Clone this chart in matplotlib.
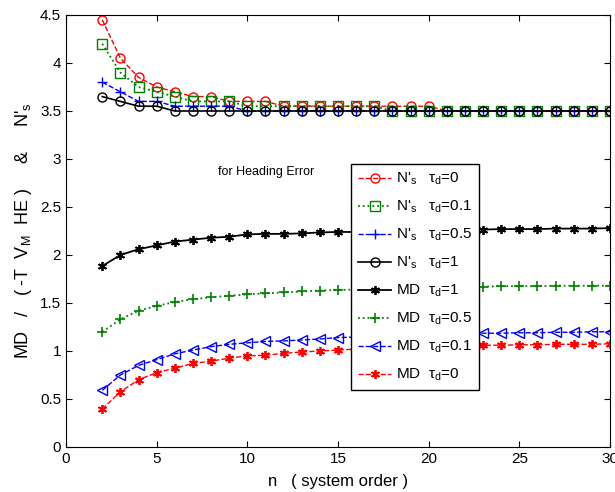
import matplotlib
matplotlib.use("Agg")
import matplotlib.pyplot as plt
import numpy as np

plt.rcParams['font.family'] = ['Liberation Sans', 'DejaVu Sans']
plt.rcParams['mathtext.fontset'] = 'custom'
plt.rcParams['mathtext.rm'] = 'Liberation Sans'
plt.rcParams['mathtext.it'] = 'Liberation Sans'

n = list(range(2, 31))

ns_td0 = [4.45, 4.05, 3.85, 3.75, 3.70, 3.65, 3.65, 3.60, 3.60, 3.60,
          3.55, 3.55, 3.55, 3.55, 3.55, 3.55, 3.55, 3.55, 3.55,
          3.50, 3.50, 3.50, 3.50, 3.50, 3.50, 3.50, 3.50, 3.50, 3.50]
ns_td01 = [4.20, 3.90, 3.75, 3.70, 3.65, 3.60, 3.60, 3.60,
           3.55, 3.55, 3.55, 3.55, 3.55, 3.55, 3.55, 3.55,
           3.50, 3.50, 3.50, 3.50, 3.50, 3.50, 3.50, 3.50, 3.50, 3.50, 3.50, 3.50, 3.50]
ns_td05 = [3.80, 3.70, 3.60, 3.60, 3.55, 3.55, 3.55, 3.55,
           3.50, 3.50, 3.50, 3.50, 3.50, 3.50, 3.50, 3.50, 3.50, 3.50, 3.50,
           3.50, 3.50, 3.50, 3.50, 3.50, 3.50, 3.50, 3.50, 3.50, 3.50]
ns_td1 = [3.65, 3.60, 3.55, 3.55,
          3.50, 3.50, 3.50, 3.50, 3.50, 3.50, 3.50, 3.50, 3.50, 3.50, 3.50,
          3.50, 3.50, 3.50, 3.50, 3.50, 3.50, 3.50, 3.50, 3.50, 3.50, 3.50, 3.50, 3.50, 3.50]

md_td1 = [1.885, 2.00, 2.06, 2.10, 2.14, 2.16, 2.18, 2.19, 2.215, 2.22,
          2.22, 2.225, 2.235, 2.24, 2.24, 2.245, 2.25, 2.25, 2.255, 2.26,
          2.265, 2.265, 2.27, 2.27, 2.27, 2.275, 2.275, 2.275, 2.28]
md_td05 = [1.20, 1.33, 1.42, 1.47, 1.51, 1.54, 1.56, 1.575, 1.59, 1.60,
           1.61, 1.62, 1.63, 1.635, 1.64, 1.645, 1.65, 1.655, 1.66, 1.665,
           1.67, 1.67, 1.675, 1.675, 1.675, 1.68, 1.68, 1.68, 1.68]
md_td01 = [0.59, 0.75, 0.85, 0.91, 0.97, 1.01, 1.045, 1.07, 1.085, 1.10,
           1.105, 1.115, 1.125, 1.14, 1.145, 1.15, 1.16, 1.165, 1.17, 1.175,
           1.18, 1.185, 1.185, 1.19, 1.19, 1.195, 1.195, 1.20, 1.20]
md_td0 = [0.395, 0.575, 0.70, 0.775, 0.82, 0.87, 0.895, 0.925, 0.95, 0.955,
          0.975, 0.99, 1.00, 1.01, 1.02, 1.025, 1.03, 1.04, 1.045, 1.05,
          1.055, 1.06, 1.06, 1.065, 1.065, 1.07, 1.07, 1.07, 1.075]

labels = [r"N$'_{\mathrm{s}}$   $\tau_{\mathrm{d}}$=0",
          r"N$'_{\mathrm{s}}$   $\tau_{\mathrm{d}}$=0.1",
          r"N$'_{\mathrm{s}}$   $\tau_{\mathrm{d}}$=0.5",
          r"N$'_{\mathrm{s}}$   $\tau_{\mathrm{d}}$=1",
          r"MD  $\tau_{\mathrm{d}}$=1",
          r"MD  $\tau_{\mathrm{d}}$=0.5",
          r"MD  $\tau_{\mathrm{d}}$=0.1",
          r"MD  $\tau_{\mathrm{d}}$=0"]

fig = plt.figure(figsize=(6.15, 4.92), dpi=100)
ax = fig.add_axes([66/615, 1 - 447/492, (610-66)/615, (447-15)/492])

red = '#ff0000'
green = '#008000'
blue = '#0000ff'
black = '#000000'
ast = (6, 2, 0)

ax.plot(n, ns_td0, '--', color=red, marker='o', mfc='none', ms=6.5, lw=1.0, label=labels[0])
ax.plot(n, ns_td01, ':', color=green, marker='s', mfc='none', ms=6.5, lw=1.3, label=labels[1])
ax.plot(n, ns_td05, '--', color=blue, marker='+', ms=7, lw=1.0, label=labels[2])
ax.plot(n, ns_td1, '-', color=black, marker='o', mfc='none', ms=6.5, lw=1.2, label=labels[3])
ax.plot(n, md_td1, '-', color=black, marker=ast, ms=6.5, mew=1.3, lw=1.3, label=labels[4])
ax.plot(n, md_td05, ':', color=green, marker='+', ms=7, mew=1.2, lw=1.3, label=labels[5])
ax.plot(n, md_td01, '--', color=blue, marker='<', mfc='none', ms=7.5, lw=1.0, label=labels[6])
ax.plot(n, md_td0, '--', color=red, marker=ast, ms=6.5, mew=1.3, lw=1.0, label=labels[7])

ax.set_xlim(0, 30)
ax.set_ylim(0, 4.5)
ax.set_xticks(np.arange(0, 31, 5))
ax.set_yticks(np.arange(0, 4.51, 0.5))
ax.set_yticklabels(['0', '0.5', '1', '1.5', '2', '2.5', '3', '3.5', '4', '4.5'])
ax.tick_params(direction='in', top=True, right=True, labelsize=11, length=4)

ax.set_xlabel("n   ( system order )", fontsize=12, labelpad=6)
ax.set_ylabel(r"MD   /   ( -T  V$_{\mathrm{M}}$  HE )     &     N$'_{\mathrm{s}}$", fontsize=13, labelpad=4)

ax.text(8.4, 2.86, "for Heading Error", fontsize=9, va='center')

leg = ax.legend(loc='upper left', bbox_to_anchor=((351-66)/544, (447-164)/432),
                borderaxespad=0, fontsize=11, frameon=True, fancybox=False,
                edgecolor='black', framealpha=1, handlelength=2.2, borderpad=0.45,
                labelspacing=0.76, handletextpad=0.3)
leg.get_frame().set_linewidth(1.0)

fig.savefig("out.png", dpi=100)
